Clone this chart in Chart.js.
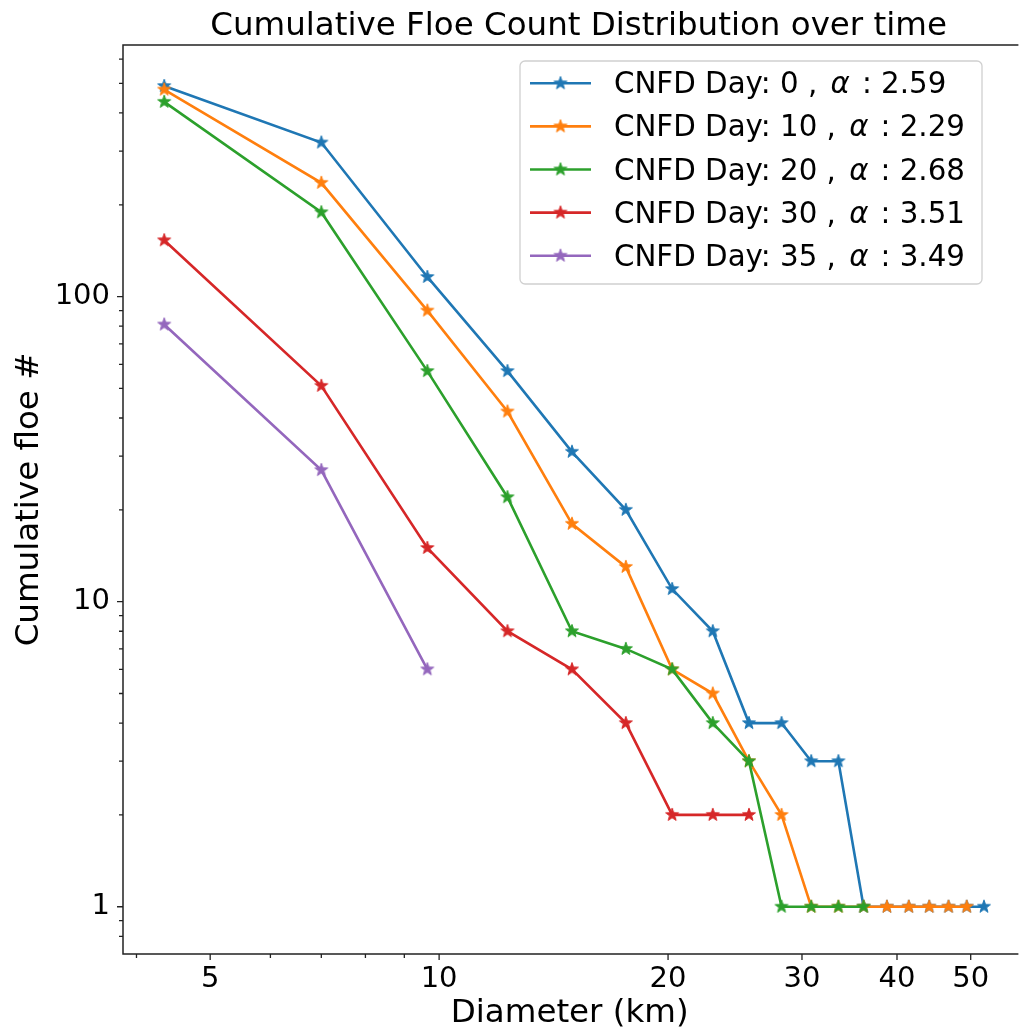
<!DOCTYPE html>
<html>
<head>
<meta charset="utf-8">
<script src="https://cdn.jsdelivr.net/npm/chart.js@4.4.0/dist/chart.umd.min.js"></script>
<style>
  html, body { margin: 0; padding: 0; overflow: hidden; background: #fff; }
  #cnfdChart { position: absolute; left: 0; top: 0; }
</style>
</head>
<body>
<canvas id="cnfdChart" width="1026" height="1033"></canvas>
<script>
// floe diameter bins (km)
const diameters = [4.35, 7.0, 9.65, 12.3, 14.95, 17.6, 20.25, 22.9, 25.55, 28.2,
                   30.85, 33.5, 36.15, 38.8, 41.45, 44.1, 46.75, 49.4, 52.05];

// cumulative floe counts per day
const day0  = [490, 320, 116, 57, 31, 20, 11, 8, 4, 4, 3, 3, 1, 1, 1, 1, 1, 1, 1];
const day10 = [477, 236, 90, 42, 18, 13, 6, 5, 3, 2, 1, 1, 1, 1, 1, 1, 1, 1];
const day20 = [435, 189, 57, 22, 8, 7, 6, 4, 3, 1, 1, 1, 1];
const day30 = [153, 51, 15, 8, 6, 4, 2, 2, 2];
const day35 = [81, 27, 6];

const seriesDays = [0, 10, 20, 30, 35];
const seriesAlphas = ['2.59', '2.29', '2.68', '3.51', '3.49'];
const seriesValues = [day0, day10, day20, day30, day35];
const seriesColors = ['#1f77b4', '#ff7f0e', '#2ca02c', '#d62728', '#9467bd'];

const xTickLabels = [5, 10, 20, 30, 40, 50];
const xMinorTicks = [4, 6, 7, 8, 9];
const yTickLabels = [1, 10, 100];
const yMinorTicks = [0.8, 0.9, 2, 3, 4, 5, 6, 7, 8, 9, 20, 30, 40, 50, 60, 70, 80, 90, 200, 300, 400, 500, 600];

const FONT = '"DejaVu Sans", "Liberation Sans", sans-serif';
Chart.defaults.font.family = FONT;
Chart.defaults.color = '#000';

function makeStar(color, r) {
    const c = document.createElement('canvas');
    const s = Math.ceil(r * 2 + 4);
    c.width = c.height = s;
    const g = c.getContext('2d');
    g.beginPath();
    for (let i = 0; i < 10; i++) {
        const rad = i % 2 ? r * 0.4 : r;
        const ang = -Math.PI / 2 + i * Math.PI / 5;
        g.lineTo(s / 2 + rad * Math.cos(ang), s / 2 + rad * Math.sin(ang));
    }
    g.closePath();
    g.fillStyle = color;
    g.fill();
    g.strokeStyle = color;
    g.lineWidth = 1;
    g.stroke();
    return c;
}

const stars = seriesColors.map(c => makeStar(c, 6.8));

const datasets = seriesValues.map((vals, i) => ({
    label: 'CNFD Day: ' + seriesDays[i] + ' , α : ' + seriesAlphas[i],
    data: vals.map((v, j) => ({ x: diameters[j], y: v })),
    borderColor: seriesColors[i],
    backgroundColor: seriesColors[i],
    borderWidth: 2.6,
    pointStyle: stars[i],
    pointRadius: 7,
    tension: 0,
    fill: false,
    order: seriesValues.length - i
}));

// frame, tick marks, title and legend
const decorations = {
    id: 'decorations',
    afterDraw(chart) {
        const { ctx, chartArea: a, scales: { x, y } } = chart;
        ctx.save();
        ctx.strokeStyle = '#222';
        ctx.lineWidth = 1.3;
        ctx.beginPath();
        xTickLabels.forEach(v => { const px = x.getPixelForValue(v); ctx.moveTo(px, a.bottom); ctx.lineTo(px, a.bottom + 6); });
        xMinorTicks.forEach(v => { const px = x.getPixelForValue(v); ctx.moveTo(px, a.bottom); ctx.lineTo(px, a.bottom + 4); });
        yTickLabels.forEach(v => { const py = y.getPixelForValue(v); ctx.moveTo(a.left, py); ctx.lineTo(a.left - 6, py); });
        yMinorTicks.forEach(v => { const py = y.getPixelForValue(v); ctx.moveTo(a.left, py); ctx.lineTo(a.left - 4, py); });
        ctx.stroke();
        // spines: left, top, bottom (right one sits past the picture edge)
        ctx.lineWidth = 1.5;
        ctx.beginPath();
        ctx.moveTo(a.right + 2, a.top);
        ctx.lineTo(a.left, a.top);
        ctx.lineTo(a.left, a.bottom);
        ctx.lineTo(a.right + 2, a.bottom);
        ctx.stroke();

        // title
        ctx.fillStyle = '#000';
        ctx.font = '32.5px ' + FONT;
        ctx.textAlign = 'center';
        ctx.textBaseline = 'alphabetic';
        ctx.fillText('Cumulative Floe Count Distribution over time', 578.6, 35);

        // legend
        const bx = 520, by = 61, bw = 462, bh = 223;
        ctx.beginPath();
        ctx.roundRect(bx, by, bw, bh, 5);
        ctx.fillStyle = 'rgba(255,255,255,0.85)';
        ctx.fill();
        ctx.strokeStyle = '#d0d0d0';
        ctx.lineWidth = 1.3;
        ctx.stroke();
        seriesDays.forEach((d, i) => {
            const ry = 83.3 + i * 43.1;
            ctx.strokeStyle = seriesColors[i];
            ctx.lineWidth = 2.6;
            ctx.beginPath();
            ctx.moveTo(530, ry);
            ctx.lineTo(591, ry);
            ctx.stroke();
            ctx.drawImage(stars[i], 560.5 - stars[i].width / 2, ry - stars[i].height / 2);
            ctx.fillStyle = '#000';
            ctx.textAlign = 'left';
            ctx.font = '29.3px ' + FONT;
            const p1 = 'CNFD Day: ' + d + ' , ';
            let tx = 614;
            ctx.fillText(p1, tx, ry + 10);
            tx += ctx.measureText(p1).width + 4;
            ctx.font = 'italic 29.3px ' + FONT;
            ctx.fillText('α', tx, ry + 10);
            tx += ctx.measureText('α').width + 12;
            ctx.font = '29.3px ' + FONT;
            ctx.fillText(': ' + seriesAlphas[i], tx, ry + 10);
        });
        ctx.restore();
    }
};

new Chart(document.getElementById('cnfdChart').getContext('2d'), {
    type: 'line',
    data: { datasets },
    options: {
        responsive: false,
        animation: false,
        layout: { padding: { top: 45, left: 0, right: 0, bottom: 0 } },
        plugins: { legend: { display: false }, tooltip: { enabled: false }, title: { display: false } },
        scales: {
            x: {
                type: 'logarithmic',
                min: 3.84,
                max: 57.42,
                grid: { display: false, drawTicks: false },
                border: { display: false },
                ticks: { font: { size: 29 }, color: '#000', padding: 8, autoSkip: false, maxRotation: 0,
                         callback: v => String(v) },
                afterBuildTicks: s => { s.ticks = xTickLabels.map(v => ({ value: v })); },
                afterFit: s => { s.height = 79; s.paddingLeft = 0; s.paddingRight = 0; },
                title: { display: true, text: 'Diameter (km)', font: { size: 32.5 }, color: '#000',
                         padding: { top: 0, bottom: 0 } }
            },
            y: {
                type: 'logarithmic',
                min: 0.734,
                max: 668,
                grid: { display: false, drawTicks: false },
                border: { display: false },
                ticks: { font: { size: 29 }, color: '#000', padding: 13, autoSkip: false,
                         callback: v => String(v) },
                afterBuildTicks: s => { s.ticks = yTickLabels.map(v => ({ value: v })); },
                afterFit: s => { s.width = 123; s.paddingTop = 0; s.paddingBottom = 0; },
                title: { display: true, text: 'Cumulative floe #', font: { size: 32.5 }, color: '#000',
                         padding: { top: 10, bottom: 0 } }
            }
        }
    },
    plugins: [decorations]
});
</script>
</body>
</html>
